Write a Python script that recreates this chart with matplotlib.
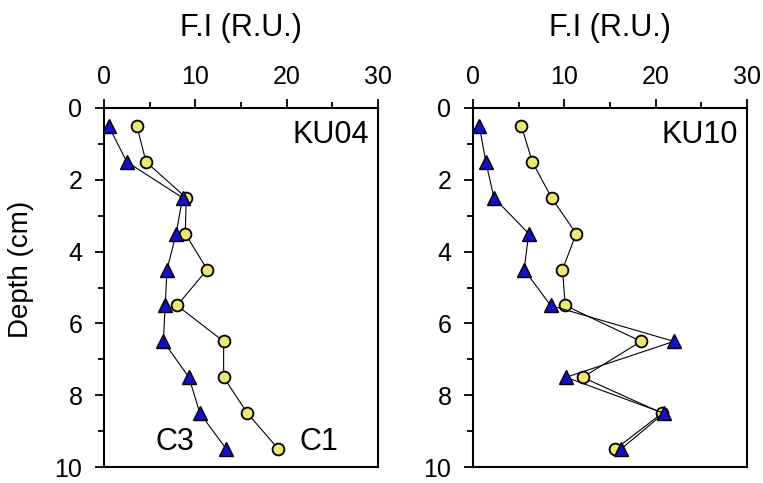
import numpy as np
import matplotlib
matplotlib.use("Agg")
from matplotlib import pyplot as plt
from matplotlib.ticker import MultipleLocator

plt.rcParams['font.family'] = ['Liberation Sans', 'DejaVu Sans']

# depth of each sample (cm)
depth = [0.5, 1.5, 2.5, 3.5, 4.5, 5.5, 6.5, 7.5, 8.5, 9.5]

# KU04 core
ku04_c1 = [3.6, 4.6, 9.0, 8.9, 11.3, 8.0, 13.1, 13.1, 15.7, 19.1]
ku04_c3 = [0.5, 2.5, 8.6, 7.9, 6.9, 6.7, 6.5, 9.3, 10.5, 13.4]

# KU10 core
ku10_c1 = [5.3, 6.5, 8.6, 11.3, 9.8, 10.1, 18.4, 12.0, 20.7, 15.6]
ku10_c3 = [0.7, 1.4, 2.3, 6.1, 5.6, 8.5, 22.0, 10.2, 20.9, 16.2]

fig = plt.figure(figsize=(7.63, 4.83), dpi=100)
ax1 = fig.add_axes([0.1363, 0.033, 0.3591, 0.7434])
ax2 = fig.add_axes([0.6199, 0.033, 0.3591, 0.7434])

yellow = '#EEE572'
blue = '#1212C4'

def panel(ax, c1, c3, name):
    ax.plot(c1, depth, '-', color='black', lw=0.8, marker='o', ms=8.5,
            mfc=yellow, mec='black', mew=1.3, zorder=3)
    ax.plot(c3, depth, '-', color='black', lw=0.8, marker='^', ms=9.5,
            mfc=blue, mec='black', mew=1.0, zorder=4)
    ax.set_xlim(0, 30)
    ax.set_ylim(10, 0)
    ax.xaxis.set_ticks_position('top')
    ax.xaxis.set_label_position('top')
    ax.xaxis.set_major_locator(MultipleLocator(10))
    ax.xaxis.set_minor_locator(MultipleLocator(5))
    ax.yaxis.set_major_locator(MultipleLocator(2))
    ax.yaxis.set_minor_locator(MultipleLocator(1))
    ax.tick_params(which='major', direction='out', length=6.5, width=1.3,
                   labelsize=18, pad=7)
    ax.tick_params(which='minor', direction='out', length=4, width=1.3)
    ax.tick_params(axis='y', pad=9)
    for s in ax.spines.values():
        s.set_linewidth(1.5)
    ax.set_xlabel('F.I (R.U.)', fontsize=22)
    ax.xaxis.set_label_coords(0.5, 1.2)
    ax.text(29, 0.75, name, fontsize=22, ha='right', va='center')

panel(ax1, ku04_c1, ku04_c3, 'KU04')
panel(ax2, ku10_c1, ku10_c3, 'KU10')

ax1.set_ylabel('Depth (cm)', fontsize=20)
ax1.yaxis.set_label_coords(-0.255, 0.55)
ax1.text(7.8, 9.3, 'C3', fontsize=22, ha='center', va='center')
ax1.text(23.5, 9.3, 'C1', fontsize=22, ha='center', va='center')

fig.savefig('out.png', dpi=100)
